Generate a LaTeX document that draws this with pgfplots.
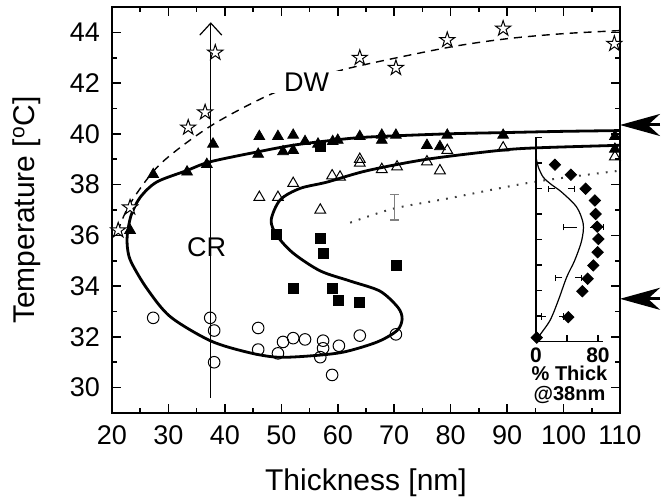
\documentclass[border=0pt]{standalone}
\usepackage{fontspec}
\setmainfont{Liberation Sans}
\usepackage{pgfplots}
\pgfplotsset{compat=1.18}
\usetikzlibrary{arrows.meta}
\pgfdeclareplotmark{ostar}{%
  \pgfpathmoveto{\pgfpointpolar{90}{\pgfplotmarksize}}%
  \pgfpathlineto{\pgfpointpolar{126}{0.382\pgfplotmarksize}}%
  \pgfpathlineto{\pgfpointpolar{162}{\pgfplotmarksize}}%
  \pgfpathlineto{\pgfpointpolar{198}{0.382\pgfplotmarksize}}%
  \pgfpathlineto{\pgfpointpolar{234}{\pgfplotmarksize}}%
  \pgfpathlineto{\pgfpointpolar{270}{0.382\pgfplotmarksize}}%
  \pgfpathlineto{\pgfpointpolar{306}{\pgfplotmarksize}}%
  \pgfpathlineto{\pgfpointpolar{342}{0.382\pgfplotmarksize}}%
  \pgfpathlineto{\pgfpointpolar{18}{\pgfplotmarksize}}%
  \pgfpathlineto{\pgfpointpolar{54}{0.382\pgfplotmarksize}}%
  \pgfpathclose
  \pgfusepathqfillstroke
}
\begin{document}
\begin{tikzpicture}
\begin{axis}[
  scale only axis, width=254pt, height=203pt,
  xmin=20, xmax=110, ymin=29, ymax=45,
  xtick={20,30,...,110}, ytick={30,32,...,44},
  minor x tick num=1, minor y tick num=1,
  tick align=inside,
  major tick length=4.5pt, minor tick length=2.5pt,
  axis line style={line width=1pt},
  every tick/.style={line width=0.8pt, black},
  ticklabel style={font=\fontsize{13.5}{16}\selectfont},
  /pgf/number format/assume math mode=true,
  xticklabel style={yshift=-3pt},
  yticklabel style={xshift=-2.5pt},
  xlabel={Thickness [nm]},
  ylabel={Temperature [\textsuperscript{o}C]},
  label style={font=\fontsize{15}{18}\selectfont},
  xlabel style={at={(axis description cs:0.5,-0.172)}, anchor=center},
  ylabel style={at={(axis description cs:-0.167,0.5)}, anchor=center},
  clip=false,
]
% DW dashed guide
\addplot[black, line width=0.7pt, dash pattern=on 4pt off 3pt, smooth] coordinates {
 (21.0,36.15) (23.2,37.25) (28.5,38.8) (37.4,40.3) (47.5,41.5) (55,42.1) (62.2,42.6)
 (79.4,43.4) (90,43.75) (100,43.95) (110,44.07)};
\node[fill=white, inner xsep=9pt, inner ysep=1pt, font=\fontsize{13.5}{16}\selectfont] at (axis cs:54.5,42.05) {DW};
% dotted
\addplot[black!75, line width=1pt, dash pattern=on 0.9pt off 3.6pt, smooth] coordinates {
 (62.2,36.5) (69.8,37.05) (79.4,37.45) (94.6,38.1) (110,38.55)};
\addplot[draw=none, mark=none, error bars/.cd, y dir=both, y explicit, error mark=-,
  error bar style={gray, line width=0.7pt}, error mark options={rotate=90, gray, mark size=2.2pt, line width=0.7pt}]
  coordinates {(70,37.1) +- (0,0.5)};
% thick S-curve
\addplot[black, line width=1.4pt, smooth] coordinates {
 (110,40.13) (100,40.1) (89.3,40.05) (79.3,40.0) (65,39.87) (58,39.72) (52,39.55) (46,39.3)
 (37.4,38.9) (33.2,38.55) (27.9,38.1) (25,37.5) (23.4,36.8) (22.7,36.0) (22.8,35.4) (23.5,34.9)
 (26.2,33.9) (30.3,32.8) (37.4,31.85) (43.9,31.4) (49.2,31.2) (55.1,31.25) (61,31.4) (67,31.8)
 (70.5,32.25) (71.4,32.7) (70.7,33.15) (67.5,33.8) (62.2,34.2) (56.9,34.6) (52.1,35.3) (49.2,36.0)
 (48.2,36.6) (49.8,37.4) (53.3,37.85) (58.1,38.1) (65.2,38.55) (75.8,39.0) (88.7,39.35) (95.3,39.45) (110,39.55)};
% CR vertical arrow
\draw[black, line width=0.6pt, -{Straight Barb[length=6pt,width=11pt]}] (axis cs:37.5,29.6) -- (axis cs:37.5,44.4);
\node[font=\fontsize{13.5}{16}\selectfont] at (axis cs:36.75,35.53) {CR};
% open stars
\addplot[only marks, mark=ostar, mark size=4pt, mark options={fill=white, draw=black, line width=0.5pt}] coordinates {
 (21.1,36.2) (23.2,37.1) (33.5,40.25) (36.5,40.85) (38.3,43.2) (63.9,43.0) (70.3,42.6)
 (79.4,43.7) (89.3,44.15) (109,43.55)};
% open triangles
\addplot[only marks, mark=triangle, mark size=3.1pt, mark options={fill=white, draw=black, line width=0.5pt}] coordinates {
 (46.1,37.5) (49.4,37.5) (52.1,38.05) (56.9,37.0) (59,38.35) (60.4,38.3) (63.9,38.85) (63.9,39.0)
 (67.8,38.6) (70.5,38.7) (75.8,38.9) (78.1,38.55) (79.4,39.35) (89.3,39.45) (109.1,39.1)};
% filled triangles
\addplot[only marks, mark=triangle*, mark size=3.1pt, mark options={fill=black, draw=black}] coordinates {
 (23.2,36.2) (27.3,38.4) (33.3,38.5) (36.8,38.8) (37.9,39.6) (45.9,39.2) (46.1,39.9) (49.4,39.9)
 (50.3,39.3) (52.1,39.35) (52.1,39.95) (54.2,39.7) (56.5,39.6) (59.1,39.7) (60.0,39.75) (63.9,39.9)
 (67.8,39.95) (67.8,39.75) (70.3,39.95) (75.8,39.55) (78.1,39.5) (79.4,39.95) (89.3,39.95)
 (109.1,39.9) (109.1,39.4)};
% filled squares
\addplot[only marks, mark=square*, mark size=2.5pt, mark options={fill=black, draw=black}] coordinates {
 (49.2,36.05) (56.9,35.9) (57.4,35.3) (52.2,33.9) (59,33.9) (60.2,33.45) (63.9,33.35) (70.3,34.8) (57,39.5)};
% open circles
\addplot[only marks, mark=o, mark size=2.9pt, mark options={draw=black, fill=white, line width=0.5pt}] coordinates {
 (27.3,32.75) (37.4,32.75) (38.1,32.25) (38.1,31.0) (45.9,32.35) (45.9,31.5) (49.4,31.35) (50.3,31.8)
 (52.1,31.95) (54.2,31.9) (57.4,31.85) (57.4,31.55) (56.9,31.2) (60.2,31.65) (59,30.5) (63.9,32.05) (70.3,32.1)};
% right arrows
\draw[black, line width=1.5pt, -{Stealth[length=20pt,width=11pt,inset=6pt]}] (axis cs:117.1,40.35) -- (axis cs:110,40.35);
\draw[black, line width=1.5pt, -{Stealth[length=20pt,width=11pt,inset=6pt]}] (axis cs:117.1,33.5) -- (axis cs:110,33.5);
\coordinate (insetSW) at (axis cs:95.12,31.82);
\end{axis}
% inset
\begin{axis}[
  at={(insetSW)}, anchor=south west,
  scale only axis, width=33.5pt, height=102pt,
  xmin=0, xmax=86.5, ymin=0, ymax=8,
  axis x line=bottom, axis y line=left,
  axis line style={-, line width=0.8pt},
  xtick={0,40,80}, xticklabels={0,,80},
  ytick={0,1,...,8}, yticklabels={},
  tick align=inside, major tick length=3pt,
  every tick/.style={line width=0.7pt, black},
  ticklabel style={font=\bfseries\fontsize{10.5}{12}\selectfont},
  xticklabel style={inner sep=0.5pt, yshift=-2.5pt},
  /pgf/number format/assume math mode=true,
  xlabel={\% Thick\\@38nm},
  xlabel style={align=center, inner sep=0.3pt, font=\bfseries\fontsize{10}{10}\selectfont, at={(axis description cs:0.5,0)}, anchor=north, yshift=-12pt},
  clip=false,
]
% horizontal error bars, drawn as left and right halves with a gap at the centre
\addplot[draw=none, mark=none, error bars/.cd, x dir=minus, x explicit, error mark=-,
  error bar style={black, line width=0.5pt}, error mark options={rotate=90, black, mark size=1.6pt, line width=0.5pt}]
  coordinates {(24.6,5.99) +- (8.6,0) (52.6,4.48) +- (17.6,0) (34,2.49) +- (8.2,0) (12.9,0.98) +- (5.6,0)};
\addplot[draw=none, mark=none, error bars/.cd, x dir=plus, x explicit, error mark=-,
  error bar style={black, line width=0.5pt}, error mark options={rotate=90, black, mark size=1.6pt, line width=0.5pt}]
  coordinates {(41.4,5.99) +- (8.6,0) (69.4,4.48) +- (17.6,0) (50.8,2.49) +- (8.2,0) (29.7,0.98) +- (5.6,0)};
\addplot[black, line width=0.6pt, smooth] coordinates {
 (0,7.23) (3,6.84) (9.4,6.44) (20,6.15) (33,5.86) (52.5,5.27) (61,4.61) (59,3.96) (50,3.18)
 (39.6,2.52) (28.8,1.61) (18,0.82) (3,0.17) (0,0)};
\addplot[only marks, mark=square*, mark size=2pt, mark options={rotate=45, fill=black, draw=black}] coordinates {
 (24.5,6.93) (45,6.54) (64,5.99) (76,5.53) (77,5.0) (79,4.5) (80.5,4.02) (79.6,3.5) (74,2.98)
 (66.7,2.46) (59.8,1.97) (41.7,0.95) (1,0.15)};
\end{axis}
\pgfresetboundingbox
\path[use as bounding box] (-56pt,-42.5pt) rectangle (278.5pt,206.5pt);
\end{tikzpicture}
\end{document}
